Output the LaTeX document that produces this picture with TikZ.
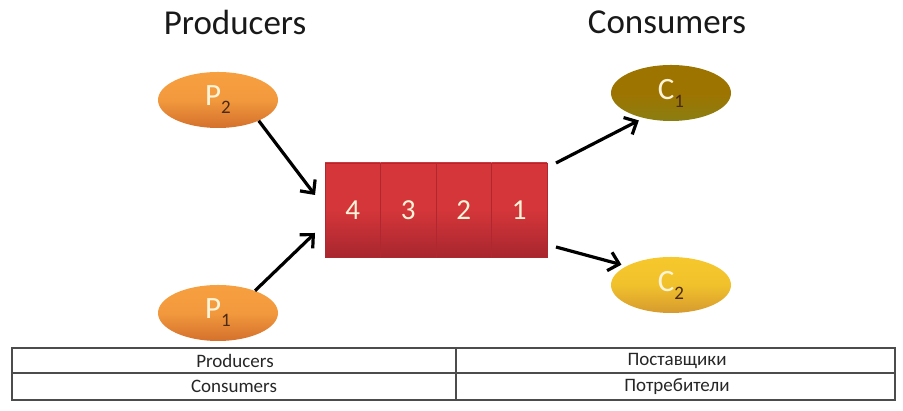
\documentclass[tikz,border=0pt]{standalone}
\usepackage{fontspec}
\setmainfont{Carlito}
\usetikzlibrary{positioning,shapes.geometric,arrows.meta}

\definecolor{prodtop}{HTML}{F7A040}
\definecolor{prodbot}{HTML}{D4702C}
\definecolor{cnatop}{HTML}{9E7400}
\definecolor{cnabot}{HTML}{8A7E12}
\definecolor{cnbtop}{HTML}{F6C82C}
\definecolor{cnbbot}{HTML}{D69A2E}
\definecolor{quetop}{HTML}{D4363A}
\definecolor{quebot}{HTML}{A8262E}
\definecolor{labtext}{HTML}{FFF4D8}
\definecolor{subtext}{HTML}{4A2A10}

\newcommand{\elab}[2]{{\color{labtext}#1}\raisebox{-8pt}{\fontsize{19}{19}\selectfont\color{subtext}#2}}

\tikzset{
  blob/.style={ellipse, minimum width=120pt, minimum height=56pt, inner sep=0pt,
    font=\fontsize{31}{31}\selectfont},
  prod/.style={blob, top color=prodtop, bottom color=prodbot, middle color=prodtop!85!prodbot},
  cell/.style={rectangle, minimum width=55.5pt, minimum height=94pt, outer sep=0pt,
    top color=quetop, bottom color=quebot, middle color=quetop,
    draw=quebot!85!quetop, line width=0.5pt,
    text=labtext, font=\fontsize{29}{29}\selectfont},
  arr/.style={-{Straight Barb[length=10pt,width=19pt]}, line width=3.2pt, black},
  tab/.style={draw=black!70, line width=1.1pt},
  tabtext/.style={font=\fontsize{19}{19}\selectfont, text=black!85}
}

\begin{document}
\begin{tikzpicture}[x=1pt,y=1pt]
\useasboundingbox (0,0) rectangle (903,411);

\node[font=\fontsize{35}{35}\selectfont, text=black!90] (ptitle) at (235,389) {Producers};
\node[font=\fontsize{35}{35}\selectfont, text=black!90] (ctitle) at (667,389) {Consumers};

\node[prod] (p2) at (218,311) {\elab{P}{2}};
\node[prod] (p1) at (218,98) {\elab{P}{1}};

\node[blob, top color=cnatop, bottom color=cnabot, middle color=cnatop] (c1) at (671,318) {\elab{C}{1}};
\node[blob, top color=cnbtop, bottom color=cnbbot, middle color=cnbtop!85!cnbbot] (c2) at (671,126) {\elab{C}{2}};

% queue
\node[cell, text depth=-6pt] (q4) at (352.75,201) {4};
\node[cell, text depth=-6pt, right=0pt of q4] (q3) {3};
\node[cell, text depth=-6pt, right=0pt of q3] (q2) {2};
\node[cell, text depth=-6pt, right=0pt of q2] (q1) {1};

\coordinate (ina) at ([xshift=-10pt, yshift=15pt]q4.west);
\coordinate (inb) at ([xshift=-10pt, yshift=-23pt]q4.west);
\coordinate (outa) at ([xshift=9pt]q1.north east);
\coordinate (outb) at ([xshift=9pt, yshift=10pt]q1.south east);

\draw[arr] (p2.-27) -- (ina);
\draw[arr] (p1.31) -- (inb);
\draw[arr] (outa) -- ([shift={(-2pt,-3pt)}]c1.219);
\draw[arr] (outb) -- ([shift={(-2pt,3pt)}]c2.160);

% table
\draw[tab] (12,11) rectangle (895,63);
\draw[tab] (12,38) -- (895,38);
\draw[tab] (456,11) -- (456,63);

\node[tabtext] (t1) at (235,50.5) {Producers};
\node[tabtext] (t2) at (677,50.5) {Поставщики};
\node[tabtext] (t3) at (234,24.5) {Consumers};
\node[tabtext] (t4) at (677,24.5) {Потребители};
\end{tikzpicture}
\end{document}
